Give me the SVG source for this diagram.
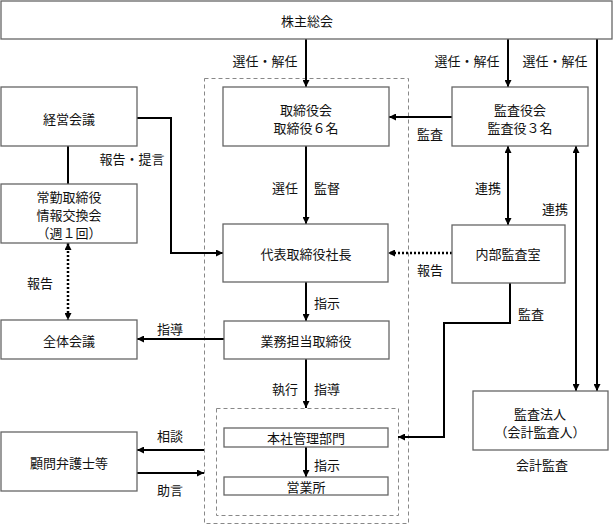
<svg xmlns="http://www.w3.org/2000/svg" width="613" height="525" viewBox="0 0 613 525">
<style>
  .box { fill: #fff; stroke: #666; stroke-width: 1.3; }
  .grp { fill: none; stroke: #888; stroke-width: 1; stroke-dasharray: 4 3; }
  .t { font-family: "Noto Sans CJK JP", "Noto Sans", sans-serif; font-size: 13px; fill: #111; text-anchor: middle; dominant-baseline: central; }
  .ln { fill: none; stroke: #000; stroke-width: 2; }
  .dot { fill: none; stroke: #000; stroke-width: 2.5; stroke-dasharray: 2 2; }
</style>
<defs>
  <marker id="ah" viewBox="0 0 8 8" markerWidth="7" markerHeight="7" refX="8" refY="4" orient="auto-start-reverse" markerUnits="userSpaceOnUse">
    <path d="M0,0 L8,4 L0,8 z" fill="#000"/>
  </marker>
</defs>
<rect x="0" y="0" width="613" height="525" fill="#fff"/>

<rect class="grp" x="204.5" y="78.5" width="204" height="445"/>
<rect class="grp" x="216.5" y="408.5" width="182" height="107"/>

<g id="connectors">
  <line class="ln" x1="306" y1="39" x2="306" y2="87" marker-end="url(#ah)"/>
  <line class="ln" x1="508" y1="39" x2="508" y2="87" marker-end="url(#ah)"/>
  <line class="ln" x1="597" y1="39" x2="597" y2="391" marker-end="url(#ah)"/>
  <line class="ln" x1="452" y1="117" x2="389" y2="117" marker-end="url(#ah)"/>
  <line class="ln" x1="306" y1="146" x2="306" y2="224" marker-end="url(#ah)"/>
  <line class="ln" x1="508" y1="146" x2="508" y2="225" marker-start="url(#ah)" marker-end="url(#ah)"/>
  <line class="ln" x1="576" y1="146" x2="576" y2="391" marker-start="url(#ah)" marker-end="url(#ah)"/>
  <line class="dot" x1="452" y1="253" x2="388" y2="253" marker-end="url(#ah)"/>
  <polyline class="ln" points="137,118 171,118 171,253 223,253" marker-end="url(#ah)"/>
  <line class="ln" x1="68" y1="146" x2="68" y2="184"/>
  <line class="dot" x1="68" y1="243" x2="68" y2="320" marker-start="url(#ah)" marker-end="url(#ah)"/>
  <line class="ln" x1="306" y1="282" x2="306" y2="321" marker-end="url(#ah)"/>
  <line class="ln" x1="224" y1="339" x2="137" y2="339" marker-end="url(#ah)"/>
  <line class="ln" x1="306" y1="359" x2="306" y2="408" marker-end="url(#ah)"/>
  <line class="ln" x1="306" y1="447" x2="306" y2="477" marker-end="url(#ah)"/>
  <polyline class="ln" points="510,283 510,323 444,323 444,437 398,437" marker-end="url(#ah)"/>
  <line class="ln" x1="204" y1="450" x2="137" y2="450" marker-end="url(#ah)"/>
  <line class="ln" x1="137" y1="473" x2="204" y2="473" marker-end="url(#ah)"/>

  <text class="t" x="265" y="60">選任・解任</text>
  <text class="t" x="467" y="60">選任・解任</text>
  <text class="t" x="555" y="60">選任・解任</text>
  <text class="t" x="430" y="133">監査</text>
  <text class="t" x="132" y="158">報告・提言</text>
  <text class="t" x="285" y="187">選任</text>
  <text class="t" x="327" y="187">監督</text>
  <text class="t" x="488" y="187">連携</text>
  <text class="t" x="555" y="208">連携</text>
  <text class="t" x="40" y="282">報告</text>
  <text class="t" x="430" y="269">報告</text>
  <text class="t" x="327" y="302">指示</text>
  <text class="t" x="531" y="313">監査</text>
  <text class="t" x="170" y="328">指導</text>
  <text class="t" x="285" y="388">執行</text>
  <text class="t" x="327" y="388">指導</text>
  <text class="t" x="170" y="435">相談</text>
  <text class="t" x="327" y="464">指示</text>
  <text class="t" x="170" y="489">助言</text>
  <text class="t" x="542" y="464">会計監査</text>
</g>

<g id="shareholders">
  <rect class="box" x="1" y="1" width="611" height="38"/>
  <text class="t" x="307" y="20">株主総会</text>
</g>
<g id="board">
  <rect class="box" x="223" y="87" width="166" height="59"/>
  <text class="t" x="306" y="109">取締役会</text>
  <text class="t" x="306" y="127">取締役６名</text>
</g>
<g id="keiei">
  <rect class="box" x="1" y="87" width="136" height="59"/>
  <text class="t" x="69" y="118">経営会議</text>
</g>
<g id="joukin">
  <rect class="box" x="1" y="184" width="136" height="59"/>
  <text class="t" x="69" y="196">常勤取締役</text>
  <text class="t" x="69" y="214">情報交換会</text>
  <text class="t" x="69" y="232">（週１回）</text>
</g>
<g id="zentai">
  <rect class="box" x="1" y="320" width="136" height="39"/>
  <text class="t" x="69" y="340">全体会議</text>
</g>
<g id="komon">
  <rect class="box" x="1" y="432" width="136" height="59"/>
  <text class="t" x="69" y="462">顧問弁護士等</text>
</g>
<g id="kansayakukai">
  <rect class="box" x="452" y="87" width="136" height="59"/>
  <text class="t" x="520" y="109">監査役会</text>
  <text class="t" x="520" y="127">監査役３名</text>
</g>
<g id="naibu">
  <rect class="box" x="452" y="225" width="113" height="58"/>
  <text class="t" x="508" y="253">内部監査室</text>
</g>
<g id="daihyo">
  <rect class="box" x="223" y="224" width="165" height="58"/>
  <text class="t" x="306" y="253">代表取締役社長</text>
</g>
<g id="gyomu">
  <rect class="box" x="224" y="321" width="165" height="38"/>
  <text class="t" x="306" y="340">業務担当取締役</text>
</g>
<g id="honsha">
  <rect class="box" x="224" y="428" width="164" height="19"/>
  <text class="t" x="306" y="437">本社管理部門</text>
</g>
<g id="eigyo">
  <rect class="box" x="224" y="477" width="164" height="18"/>
  <text class="t" x="306" y="486">営業所</text>
</g>
<g id="kansahojin">
  <rect class="box" x="473" y="391" width="135" height="59"/>
  <text class="t" x="540" y="413">監査法人</text>
  <text class="t" x="540" y="431">（会計監査人）</text>
</g>
</svg>
